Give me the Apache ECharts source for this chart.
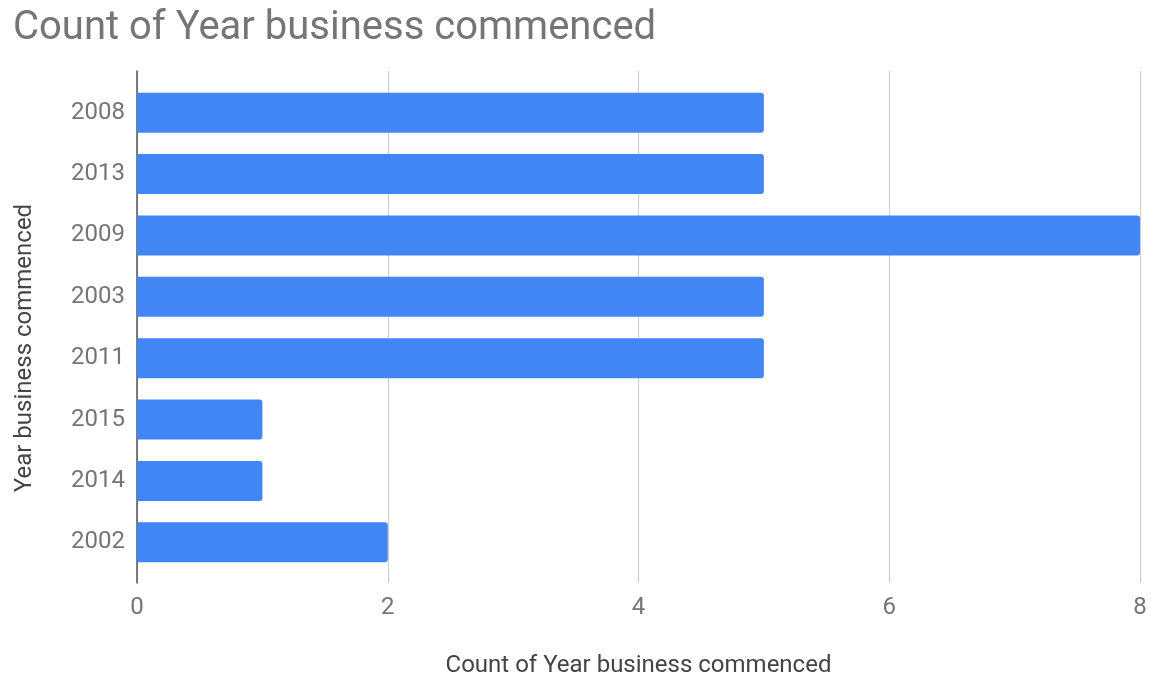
<!DOCTYPE html>
<html>
<head>
<meta charset="utf-8">
<script src="https://cdn.jsdelivr.net/npm/echarts@6/dist/echarts.min.js"></script>
<style>
  html, body { margin: 0; padding: 0; background: #ffffff; }
  #chart { width: 1151px; height: 680px; }
</style>
</head>
<body>
<div id="chart"></div>
<script>
// Years, listed top to bottom
const years = ['2008', '2013', '2009', '2003', '2011', '2015', '2014', '2002'];
// Count of businesses per year
const counts = [5, 5, 8, 5, 5, 1, 1, 2];
// Value axis ticks
const countTicks = [0, 2, 4, 6, 8];

const chartTitle = 'Count of Year business commenced';
const xTitle = 'Count of Year business commenced';
const yTitle = 'Year business commenced';

const FONT = 'Roboto, "Noto Sans", Arial, sans-serif';
const tickMin = countTicks[0];
const tickMax = countTicks[countTicks.length - 1];
const tickStep = countTicks[1] - countTicks[0];

const chart = echarts.init(document.getElementById('chart'), null, { renderer: 'canvas' });

chart.setOption({
  backgroundColor: '#ffffff',
  animation: false,
  title: {
    text: chartTitle,
    left: 8,
    top: 4,
    textStyle: { fontFamily: FONT, fontSize: 40, fontWeight: 'normal', color: '#757575' }
  },
  grid: [
    // frame: gridlines, axis line and axis titles
    { left: 137, right: 11, top: 71, bottom: 97, containLabel: false, outerBoundsMode: 'none' },
    // bars and year labels
    { left: 137, right: 11, top: 82, bottom: 107, containLabel: false, outerBoundsMode: 'none' }
  ],
  xAxis: [
    {
      gridIndex: 0,
      type: 'value',
      min: tickMin,
      max: tickMax,
      interval: tickStep,
      name: xTitle,
      nameLocation: 'middle',
      nameGap: 71,
      nameTextStyle: { fontFamily: FONT, fontSize: 24, color: '#444444' },
      axisLine: { show: false },
      axisTick: { show: false },
      axisLabel: { margin: 13, fontFamily: FONT, fontSize: 24, color: '#757575' },
      splitLine: { show: true, lineStyle: { color: '#cccccc', width: 1 } }
    },
    {
      gridIndex: 1,
      type: 'value',
      min: tickMin,
      max: tickMax,
      show: false
    }
  ],
  yAxis: [
    {
      gridIndex: 0,
      type: 'value',
      min: 0,
      max: 1,
      name: yTitle,
      nameLocation: 'middle',
      nameGap: 100,
      nameRotate: 90,
      nameTextStyle: { fontFamily: FONT, fontSize: 24, color: '#444444', padding: [0, 42, 0, 0] },
      axisLine: { show: true, lineStyle: { color: '#555555', width: 1.5 } },
      axisTick: { show: false },
      axisLabel: { show: false },
      splitLine: { show: false }
    },
    {
      gridIndex: 1,
      type: 'category',
      inverse: true,
      data: years,
      axisLine: { show: false },
      axisTick: { show: false },
      axisLabel: { margin: 12, fontFamily: FONT, fontSize: 24, color: '#757575' },
      splitLine: { show: false }
    }
  ],
  series: [
    {
      type: 'bar',
      xAxisIndex: 1,
      yAxisIndex: 1,
      data: counts,
      barWidth: 40,
      itemStyle: { color: '#4285f4', borderRadius: [0, 3, 3, 0] }
    }
  ]
});
</script>
</body>
</html>
